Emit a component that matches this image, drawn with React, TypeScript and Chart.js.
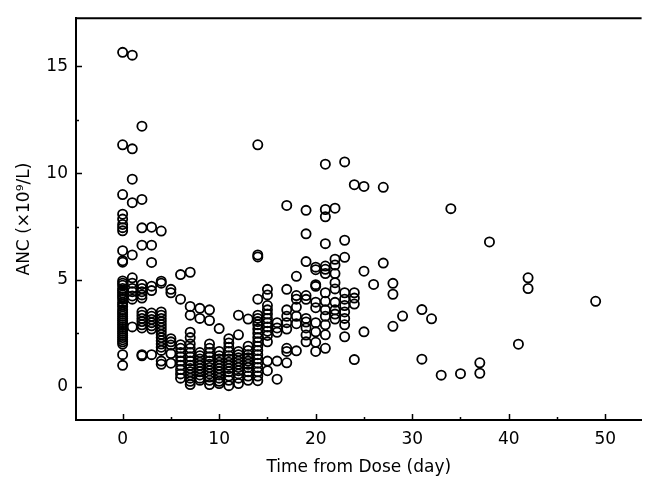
import React, { useEffect, useRef } from "react";
import { Chart, registerables } from "chart.js";

Chart.register(...registerables);

// ANC values (x10^9/L) observed on each day after dose
const ancDay0 = [15.66, 11.33, 9.0, 8.08, 7.85, 7.6, 7.45, 7.3, 6.37, 5.9, 5.83, 4.95, 4.85, 4.75, 4.6, 4.5, 4.4, 4.3, 4.2, 4.1, 3.95, 3.85, 3.75, 3.6, 3.5, 3.4, 3.3, 3.2, 3.1, 3.0, 2.9, 2.8, 2.7, 2.6, 2.5, 2.4, 2.3, 2.2, 2.1, 2.0, 1.5, 1.0];
const ancDay1 = [15.53, 11.14, 9.72, 8.62, 6.17, 5.1, 4.85, 4.6, 4.45, 4.25, 4.1, 2.8];
const ancDay2 = [12.2, 8.77, 7.44, 6.63, 4.79, 4.6, 4.45, 4.3, 4.15, 3.5, 3.35, 3.2, 3.05, 2.9, 2.75, 1.5, 1.45];
const ancDay3 = [7.47, 6.63, 5.82, 4.71, 4.5, 3.45, 3.3, 3.15, 3.0, 2.85, 2.7, 1.5];
const ancDay4 = [7.29, 4.94, 4.85, 3.5, 3.35, 3.2, 3.05, 2.9, 2.75, 2.6, 2.45, 2.3, 2.15, 2.0, 1.85, 1.7, 1.2, 1.05];
const ancDay5 = [4.56, 4.4, 2.25, 2.1, 1.95, 1.55, 1.1];
const ancDay6 = [5.25, 4.1, 1.97, 1.8, 1.6, 1.4, 1.2, 1.0, 0.8, 0.6, 0.4];
const ancDay7 = [5.36, 3.76, 3.35, 2.55, 2.3, 2.0, 1.8, 1.6, 1.4, 1.2, 1.0, 0.85, 0.7, 0.55, 0.4, 0.25, 0.1];
const ancDay8 = [3.67, 3.2, 1.6, 1.45, 1.3, 1.15, 1.0, 0.85, 0.7, 0.55, 0.4, 0.3];
const ancDay9 = [3.6, 3.1, 2.0, 1.8, 1.6, 1.4, 1.2, 1.05, 0.9, 0.75, 0.6, 0.45, 0.3, 0.1];
const ancDay10 = [2.72, 1.65, 1.45, 1.3, 1.15, 1.0, 0.85, 0.7, 0.55, 0.4, 0.25, 0.15];
const ancDay11 = [2.25, 2.05, 1.85, 1.65, 1.45, 1.3, 1.15, 1.0, 0.85, 0.7, 0.5, 0.3, 0.05];
const ancDay12 = [3.35, 2.43, 1.65, 1.5, 1.35, 1.2, 1.05, 0.9, 0.75, 0.6, 0.4, 0.15];
const ancDay13 = [3.17, 1.9, 1.7, 1.5, 1.35, 1.2, 1.05, 0.9, 0.7, 0.5, 0.3];
const ancDay14 = [11.33, 6.17, 6.08, 4.1, 3.35, 3.2, 3.05, 2.9, 2.7, 2.5, 2.3, 2.1, 1.9, 1.7, 1.5, 1.3, 1.1, 0.9, 0.7, 0.5, 0.28];
const ancDay15 = [4.56, 4.3, 3.8, 3.6, 3.4, 3.2, 3.0, 2.8, 2.6, 2.4, 2.1, 1.2, 0.75];
const ancDay16 = [3.0, 2.75, 2.55, 1.2, 0.35];
const ancDay17 = [8.49, 4.56, 3.6, 3.3, 3.0, 2.7, 1.8, 1.65, 1.12];
const ancDay18 = [5.17, 4.27, 4.1, 3.73, 3.3, 2.95, 1.68];
const ancDay19 = [8.26, 7.16, 5.86, 4.27, 4.09, 3.2, 3.03, 2.75, 2.42, 2.1];
const ancDay20 = [5.6, 5.48, 4.78, 4.7, 3.96, 3.7, 3.0, 2.57, 2.08, 1.65];
const ancDay21 = [10.42, 8.3, 7.96, 6.7, 5.65, 5.5, 5.3, 4.4, 4.0, 3.6, 3.3, 2.9, 2.43, 1.8];
const ancDay22 = [8.36, 5.97, 5.7, 5.3, 4.87, 4.58, 3.95, 3.6, 3.4, 3.17];
const ancDay23 = [10.53, 6.86, 6.06, 4.4, 4.1, 3.8, 3.5, 3.2, 2.9, 2.34];

// Sparse later observations (day, ANC)
const lateDays = [24, 24, 24, 24, 24, 25, 25, 25, 26, 27, 27, 28, 28, 28, 29, 31, 31, 32, 33, 34, 35, 37, 37, 38, 41, 42, 42, 49];
const lateAnc = [9.46, 4.4, 4.15, 3.87, 1.27, 9.38, 5.41, 2.57, 4.79, 9.34, 5.79, 4.84, 4.33, 2.83, 3.31, 3.61, 1.29, 3.18, 0.54, 8.34, 0.61, 1.12, 0.63, 6.78, 1.99, 5.1, 4.6, 4.0];

const earlyColumns: [number, number[]][] = [
  [0, ancDay0], [1, ancDay1], [2, ancDay2], [3, ancDay3], [4, ancDay4], [5, ancDay5],
  [6, ancDay6], [7, ancDay7], [8, ancDay8], [9, ancDay9], [10, ancDay10], [11, ancDay11],
  [12, ancDay12], [13, ancDay13], [14, ancDay14], [15, ancDay15], [16, ancDay16],
  [17, ancDay17], [18, ancDay18], [19, ancDay19], [20, ancDay20], [21, ancDay21],
  [22, ancDay22], [23, ancDay23],
];

const xMajorTicks = [0, 10, 20, 30, 40, 50];
const xMinorTicks = [5, 15, 25, 35, 45];
const yMajorTicks = [0, 5, 10, 15];
const yMinorTicks = [2.5, 7.5, 12.5];

const FONT = "'DejaVu Sans', sans-serif";

const framePlugin = {
  id: "frame",
  afterDraw(chart: any) {
    const { ctx, chartArea: a, scales } = chart;
    ctx.save();
    ctx.strokeStyle = "#000";
    ctx.lineWidth = 2;
    ctx.beginPath();
    ctx.moveTo(a.left - 1, a.top);
    ctx.lineTo(a.right, a.top);
    ctx.stroke();
    ctx.lineWidth = 1.5;
    ctx.beginPath();
    for (const v of xMajorTicks) {
      const px = Math.round(scales.x.getPixelForValue(v)) + 0.5;
      ctx.moveTo(px, a.bottom);
      ctx.lineTo(px, a.bottom - 6);
    }
    for (const v of xMinorTicks) {
      const px = Math.round(scales.x.getPixelForValue(v)) + 0.5;
      ctx.moveTo(px, a.bottom);
      ctx.lineTo(px, a.bottom - 3);
    }
    for (const v of yMajorTicks) {
      const py = Math.round(scales.y.getPixelForValue(v)) + 0.5;
      ctx.moveTo(a.left, py);
      ctx.lineTo(a.left + 6, py);
    }
    for (const v of yMinorTicks) {
      const py = Math.round(scales.y.getPixelForValue(v)) + 0.5;
      ctx.moveTo(a.left, py);
      ctx.lineTo(a.left + 3, py);
    }
    ctx.stroke();
    ctx.restore();
  },
};

export default function App() {
  const canvasRef = useRef<HTMLCanvasElement | null>(null);

  useEffect(() => {
    if (!canvasRef.current) return;
    const points: { x: number; y: number }[] = [];
    for (const [d, vals] of earlyColumns) {
      for (const v of vals) points.push({ x: d, y: v });
    }
    lateDays.forEach((d, i) => points.push({ x: d, y: lateAnc[i] }));

    const chart = new Chart(canvasRef.current, {
      type: "scatter",
      data: {
        datasets: [
          {
            label: "ANC",
            data: points,
            pointStyle: "circle",
            pointRadius: 4.6,
            pointBorderWidth: 1.8,
            pointBorderColor: "#000",
            pointBackgroundColor: "rgba(0,0,0,0)",
            pointHoverRadius: 4.6,
          },
        ],
      },
      options: {
        responsive: false,
        animation: false,
        layout: { padding: { top: 10, right: 6, left: 0, bottom: 0 } },
        plugins: { legend: { display: false }, tooltip: { enabled: false } },
        scales: {
          x: {
            type: "linear",
            min: -4.83,
            max: 53.76,
            afterBuildTicks: (s: any) => {
              s.ticks = xMajorTicks.map((v) => ({ value: v }));
            },
            afterFit: (s: any) => {
              s.height = 60;
            },
            grid: { display: false, drawTicks: false },
            border: { display: true, color: "#000", width: 2 },
            ticks: {
              color: "#000",
              padding: 9,
              font: { family: FONT, size: 17 },
              maxRotation: 0,
            },
            title: {
              display: true,
              text: "Time from Dose (day)",
              color: "#000",
              font: { family: FONT, size: 17 },
              padding: { top: 0, bottom: 2 },
            },
          },
          y: {
            type: "linear",
            min: -1.56,
            max: 17.26,
            afterBuildTicks: (s: any) => {
              s.ticks = yMajorTicks.map((v) => ({ value: v }));
            },
            afterFit: (s: any) => {
              s.width = 76;
            },
            grid: { display: false, drawTicks: false },
            border: { display: true, color: "#000", width: 2 },
            ticks: {
              color: "#000",
              padding: 8,
              font: { family: FONT, size: 17 },
            },
            title: {
              display: true,
              text: "ANC (×10⁹/L)",
              color: "#000",
              font: { family: FONT, size: 17 },
              padding: { top: 14, bottom: 0 },
            },
          },
        },
      },
      plugins: [framePlugin],
    });
    return () => chart.destroy();
  }, []);

  return (
    <div style={{ position: "absolute", left: 0, top: 0, width: 648, height: 480, background: "#fff" }}>
      <canvas ref={canvasRef} width={648} height={480} />
    </div>
  );
}
